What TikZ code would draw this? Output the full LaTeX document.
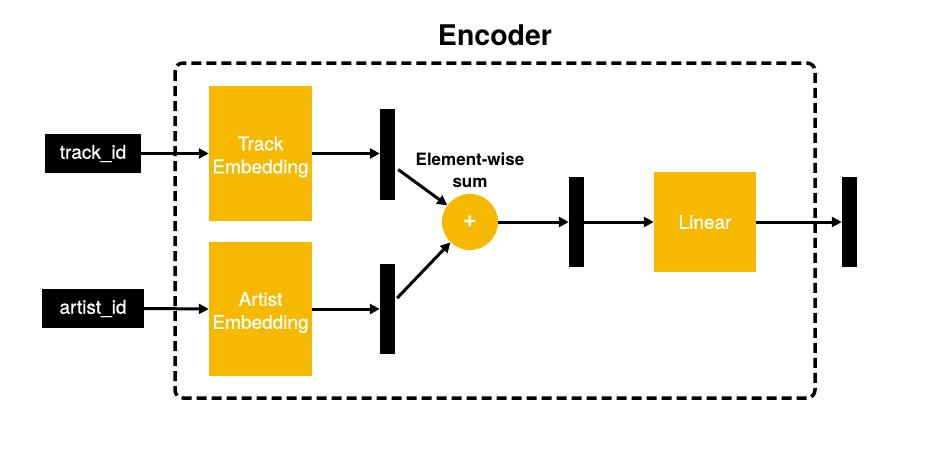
\documentclass[tikz,border=0pt]{standalone}
\usepackage{fontspec}
\setmainfont{TeX Gyre Heros}
\newfontfamily\medfont[FakeBold=0.8]{TeX Gyre Heros}
\usetikzlibrary{arrows.meta}
\definecolor{emb}{RGB}{246,185,0}
\tikzset{
  box/.style={rectangle, fill=emb, inner sep=0pt},
  boxtext/.style={text=white, align=center, inner sep=0pt, yshift=-3.5pt,
    font=\medfont\fontsize{19}{23}\selectfont},
  idbox/.style={rectangle, fill=black, text=white, inner sep=0pt,
    minimum height=39pt, font=\medfont\fontsize{19}{23}\selectfont},
  bar/.style={rectangle, fill=black, inner sep=0pt, minimum width=15pt, minimum height=90pt},
  conn/.style={line width=3pt, -{Triangle[length=10pt,width=10pt]}},
  encbox/.style={line width=3.5pt, dash pattern=on 10pt off 5pt, rounded corners=8pt}
}
\begin{document}
\begin{tikzpicture}[x=1pt,y=-1pt]
\useasboundingbox (0,0) rectangle (929,455);
\draw[encbox] (175,63) rectangle (815,398);
\node[font=\fontsize{28.5}{30}\selectfont\bfseries] (title) at (495,35) {Encoder};
\node[idbox, minimum width=96pt] (tid) at (93,153.5) {track\_id};
\node[idbox, minimum width=102pt] (aid) at (93,308.5) {artist\_id};
\node[box, minimum width=103pt, minimum height=135pt,
  label={[boxtext]center:Track\\Embedding}] (temb) at (260.5,153.5) {};
\node[box, minimum width=103pt, minimum height=134pt,
  label={[boxtext]center:Artist\\Embedding}] (aemb) at (260.5,309) {};
\node[bar, minimum height=91pt] (b1) at (387.5,154.5) {};
\node[bar] (b2) at (387.5,309) {};
\node[circle, fill=emb, text=white, inner sep=0pt, minimum size=56pt, font=\fontsize{24}{24}\selectfont\bfseries] (sum) at (470,222) {+};
\node[align=center, font=\fontsize{17}{22}\selectfont\bfseries] (sumlbl) at (470,170) {Element-wise\\sum};
\node[bar] (b3) at (576.5,222) {};
\node[box, minimum width=102pt, minimum height=100pt,
  label={[boxtext, yshift=3.5pt]center:Linear}] (lin) at (705,222) {};
\node[bar] (b4) at (849.5,222) {};
\draw[conn] (tid.east) -- (temb.west);
\draw[conn] (aid.east) -- (aemb.west);
\draw[conn] (temb.east) -- (b1.west |- temb.east);
\draw[conn] (aemb.east) -- (b2.west);
\draw[conn] ([shift={(3pt,-15pt)}]b1.east) -- (sum);
\draw[conn] ([shift={(2pt,11pt)}]b2.east) -- (sum);
\draw[conn] (sum.east) -- (b3.west);
\draw[conn] (b3.east) -- (lin.west);
\draw[conn] (lin.east) -- (b4.west);
\end{tikzpicture}
\end{document}
